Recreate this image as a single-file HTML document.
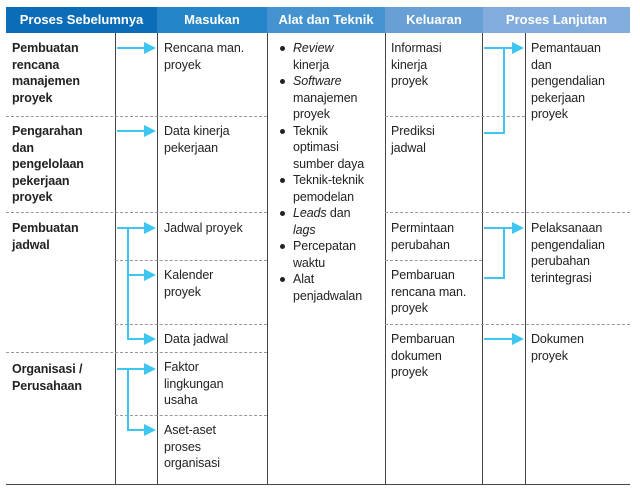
<!DOCTYPE html>
<html><head><meta charset="utf-8"><style>
body{margin:0;width:640px;height:491px;background:#fff;position:relative;overflow:hidden;font-family:"Liberation Sans",sans-serif;}
.h{position:absolute;top:7px;height:26px;color:#fff;font-weight:bold;font-size:13px;line-height:26px;text-align:center;}
.t{position:absolute;font-size:12.5px;line-height:16.5px;color:#222;letter-spacing:-0.1px;}
.b{font-weight:bold;}
.v{position:absolute;width:1px;background:#444;top:33px;height:451px;}
.d{position:absolute;height:0;border-top:1px dashed #999;}
ul{margin:0;padding:0;list-style:none;}
li{position:relative;padding-left:14px;}
li:before{content:"";position:absolute;left:1px;top:6px;width:5px;height:5px;border-radius:50%;background:#222;}
</style></head><body>
<div class="h" style="left:6px;width:151px;background:#0b6db7">Proses Sebelumnya</div>
<div class="h" style="left:157px;width:110px;background:#2585c8">Masukan</div>
<div class="h" style="left:267px;width:118px;background:#4492d0">Alat dan Teknik</div>
<div class="h" style="left:385px;width:98px;background:#68a0d6">Keluaran</div>
<div class="h" style="left:483px;width:147px;background:#82acdc">Proses Lanjutan</div>

<div class="v" style="left:115px"></div>
<div class="v" style="left:157px"></div>
<div class="v" style="left:267px"></div>
<div class="v" style="left:385px"></div>
<div class="v" style="left:482px"></div>
<div class="v" style="left:525px"></div>
<div style="position:absolute;left:6px;top:484px;width:624px;height:1px;background:#444"></div>

<div class="d" style="left:6px;top:116px;width:261px"></div>
<div class="d" style="left:6px;top:212px;width:261px"></div>
<div class="d" style="left:115px;top:260px;width:152px"></div>
<div class="d" style="left:115px;top:324px;width:152px"></div>
<div class="d" style="left:6px;top:352px;width:261px"></div>
<div class="d" style="left:115px;top:415px;width:152px"></div>
<div class="d" style="left:385px;top:116px;width:140px"></div>
<div class="d" style="left:385px;top:212px;width:245px"></div>
<div class="d" style="left:385px;top:260px;width:97px"></div>
<div class="d" style="left:385px;top:324px;width:245px"></div>

<div class="t b" style="left:12px;top:40px">Pembuatan<br>rencana<br>manajemen<br>proyek</div>
<div class="t b" style="left:12px;top:123px">Pengarahan<br>dan<br>pengelolaan<br>pekerjaan<br>proyek</div>
<div class="t b" style="left:12px;top:220px">Pembuatan<br>jadwal</div>
<div class="t b" style="left:12px;top:361px">Organisasi /<br>Perusahaan</div>

<div class="t" style="left:164px;top:40px">Rencana man.<br>proyek</div>
<div class="t" style="left:164px;top:123px">Data kinerja<br>pekerjaan</div>
<div class="t" style="left:164px;top:220px">Jadwal proyek</div>
<div class="t" style="left:164px;top:267px">Kalender<br>proyek</div>
<div class="t" style="left:164px;top:331px">Data jadwal</div>
<div class="t" style="left:164px;top:359px">Faktor<br>lingkungan<br>usaha</div>
<div class="t" style="left:164px;top:422px">Aset-aset<br>proses<br>organisasi</div>

<div class="t" style="left:279px;top:40px"><ul>
<li><i>Review</i><br>kinerja</li>
<li><i>Software</i><br>manajemen<br>proyek</li>
<li>Teknik<br>optimasi<br>sumber daya</li>
<li>Teknik-teknik<br>pemodelan</li>
<li><i>Leads</i> dan<br><i>lags</i></li>
<li>Percepatan<br>waktu</li>
<li>Alat<br>penjadwalan</li></ul></div>

<div class="t" style="left:391px;top:40px">Informasi<br>kinerja<br>proyek</div>
<div class="t" style="left:391px;top:123px">Prediksi<br>jadwal</div>
<div class="t" style="left:391px;top:220px">Permintaan<br>perubahan</div>
<div class="t" style="left:391px;top:267px">Pembaruan<br>rencana man.<br>proyek</div>
<div class="t" style="left:391px;top:331px">Pembaruan<br>dokumen<br>proyek</div>

<div class="t" style="left:531px;top:40px">Pemantauan<br>dan<br>pengendalian<br>pekerjaan<br>proyek</div>
<div class="t" style="left:531px;top:220px">Pelaksanaan<br>pengendalian<br>perubahan<br>terintegrasi</div>
<div class="t" style="left:531px;top:331px">Dokumen<br>proyek</div>

<svg width="640" height="491" style="position:absolute;left:0;top:0" fill="none" stroke="#3ec6f0" stroke-width="2">
<g>
<path d="M117 48H145M117 131H145M117 228H145M128 228V339H145M128 275H145M117 369H145M128 369V430H145"/>
<path d="M484 48H513M504 48V133H484M484 228H513M504 228V278H484M484 339H513"/>
</g>
<g fill="#3ec6f0" stroke="none">
<path d="M144 42L156 48L144 54Z"/><path d="M144 125L156 131L144 137Z"/>
<path d="M144 222L156 228L144 234Z"/><path d="M144 269L156 275L144 281Z"/>
<path d="M144 333L156 339L144 345Z"/><path d="M144 363L156 369L144 375Z"/>
<path d="M144 424L156 430L144 436Z"/>
<path d="M512 42L524 48L512 54Z"/><path d="M512 222L524 228L512 234Z"/>
<path d="M512 333L524 339L512 345Z"/>
</g></svg>
</body></html>
